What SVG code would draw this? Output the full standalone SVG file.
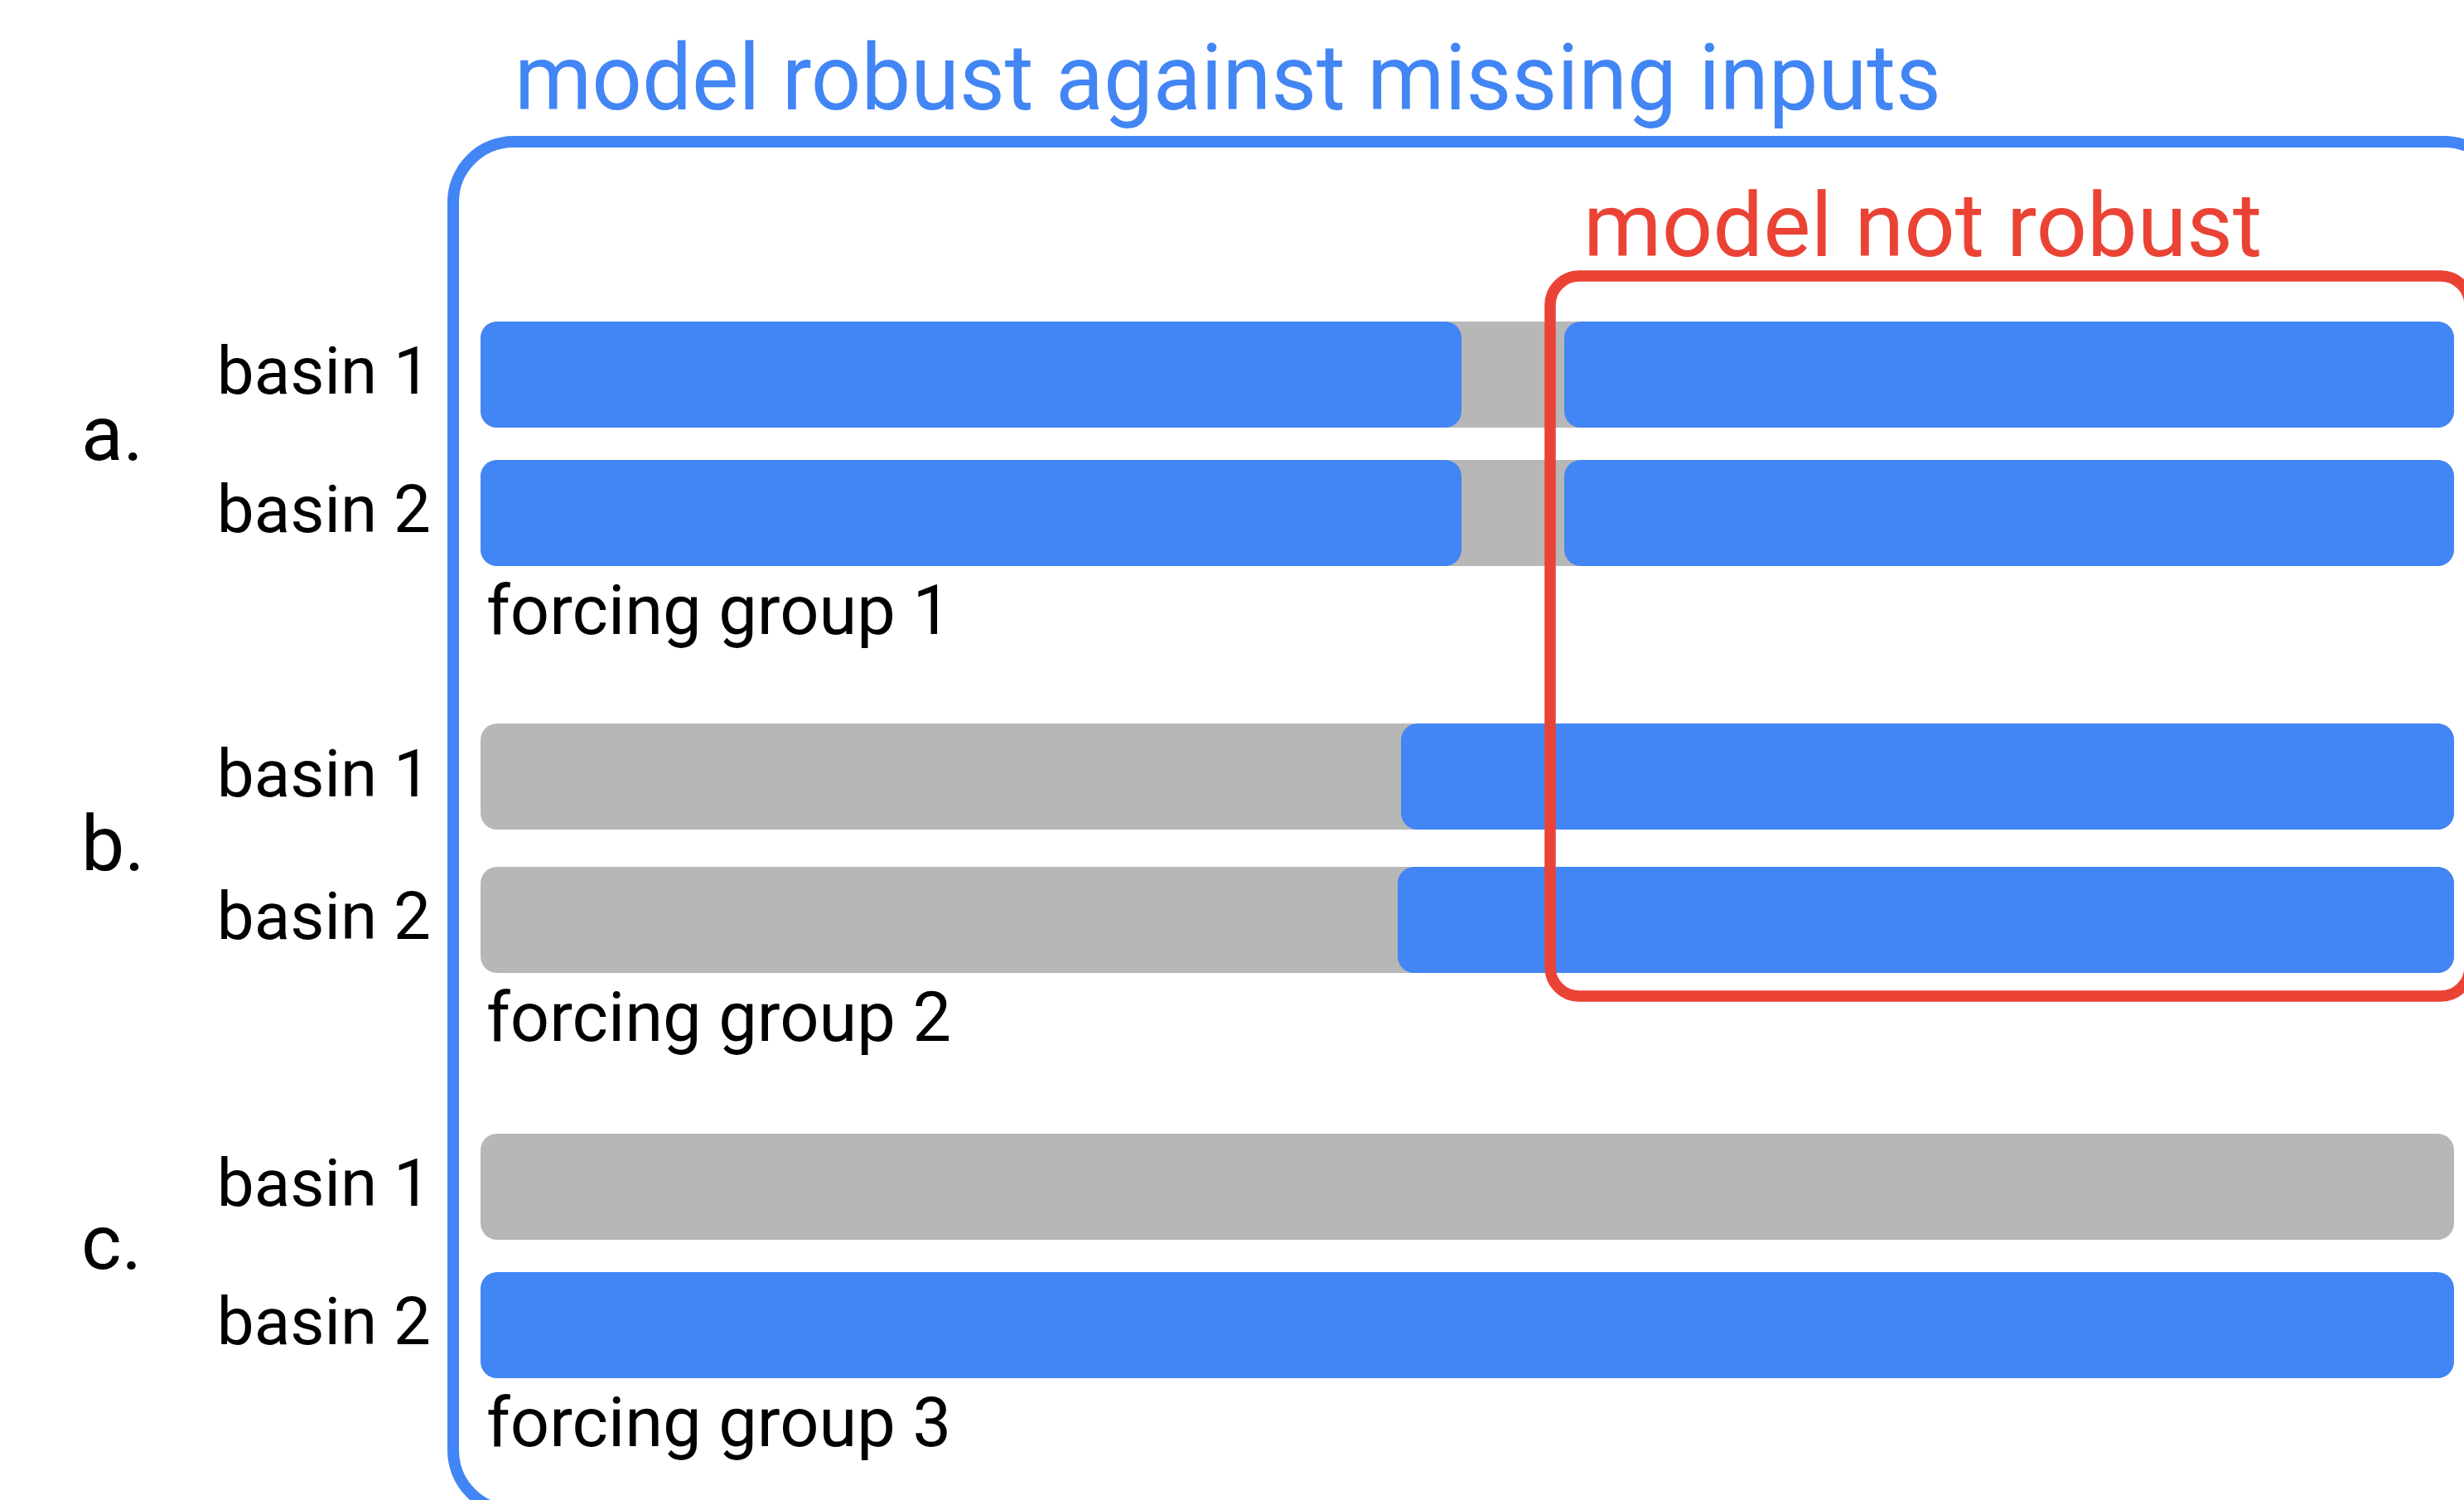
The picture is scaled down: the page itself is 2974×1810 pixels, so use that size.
<svg xmlns="http://www.w3.org/2000/svg" width="2974" height="1810" viewBox="0 0 2974 1810">
  <style>
    .txt { font-family: Roboto, "Liberation Sans", sans-serif; fill: #000000; }
    .basin { font-size: 80px; text-anchor: end; }
    .group { font-size: 83px; }
    .row { font-size: 93px; }
    .avail { fill: #4285F4; }
    .gap { fill: #B7B7B7; }
    .frame-ok { fill: none; stroke: #4285F4; stroke-width: 14; }
    .frame-bad { fill: none; stroke: #EA4335; stroke-width: 13.5; }
  </style>
  <rect width="2974" height="1810" fill="#FFFFFF"/>

  <!-- outer region: model robust -->
  <g id="robust-region">
    <rect class="frame-ok" x="547" y="171" width="2476" height="1652" rx="73" ry="73"/>
    <text class="txt" x="621" y="132" font-size="112" textLength="1722" lengthAdjust="spacingAndGlyphs" style="fill:#4285F4">model robust against missing inputs</text>
  </g>

  <!-- case a -->
  <g id="case-a">
    <text class="txt row" x="98" y="555">a.</text>
    <g id="a-basin1">
      <text class="txt basin" x="520" y="475">basin 1</text>
      <rect class="gap" x="580" y="388" width="2382" height="128" rx="20"/>
      <rect class="avail" x="580" y="388" width="1184" height="128" rx="20"/>
      <rect class="avail" x="1888" y="388" width="1074" height="128" rx="20"/>
    </g>
    <g id="a-basin2">
      <text class="txt basin" x="520" y="642">basin 2</text>
      <rect class="gap" x="580" y="555" width="2382" height="128" rx="20"/>
      <rect class="avail" x="580" y="555" width="1184" height="128" rx="20"/>
      <rect class="avail" x="1888" y="555" width="1074" height="128" rx="20"/>
    </g>
    <text class="txt group" x="587" y="765">forcing group 1</text>
  </g>

  <!-- case b -->
  <g id="case-b">
    <text class="txt row" x="98" y="1050">b.</text>
    <g id="b-basin1">
      <text class="txt basin" x="520" y="961">basin 1</text>
      <rect class="gap" x="580" y="873" width="2382" height="128" rx="20"/>
      <rect class="avail" x="1691" y="873" width="1271" height="128" rx="20"/>
    </g>
    <g id="b-basin2">
      <text class="txt basin" x="520" y="1133">basin 2</text>
      <rect class="gap" x="580" y="1046" width="2382" height="128" rx="20"/>
      <rect class="avail" x="1687" y="1046" width="1275" height="128" rx="20"/>
    </g>
    <text class="txt group" x="587" y="1256">forcing group 2</text>
  </g>

  <!-- case c -->
  <g id="case-c">
    <text class="txt row" x="98" y="1531">c.</text>
    <g id="c-basin1">
      <text class="txt basin" x="520" y="1455">basin 1</text>
      <rect class="gap" x="580" y="1368" width="2382" height="128" rx="20"/>
    </g>
    <g id="c-basin2">
      <text class="txt basin" x="520" y="1622">basin 2</text>
      <rect class="avail" x="580" y="1535" width="2382" height="128" rx="20"/>
    </g>
    <text class="txt group" x="587" y="1745">forcing group 3</text>
  </g>

  <!-- inner region: model not robust -->
  <g id="not-robust-region">
    <rect class="frame-bad" x="1871" y="333" width="1110" height="869" rx="35" ry="35"/>
    <text class="txt" x="1911" y="309" font-size="108" style="fill:#EA4335">model not robust</text>
  </g>
</svg>
